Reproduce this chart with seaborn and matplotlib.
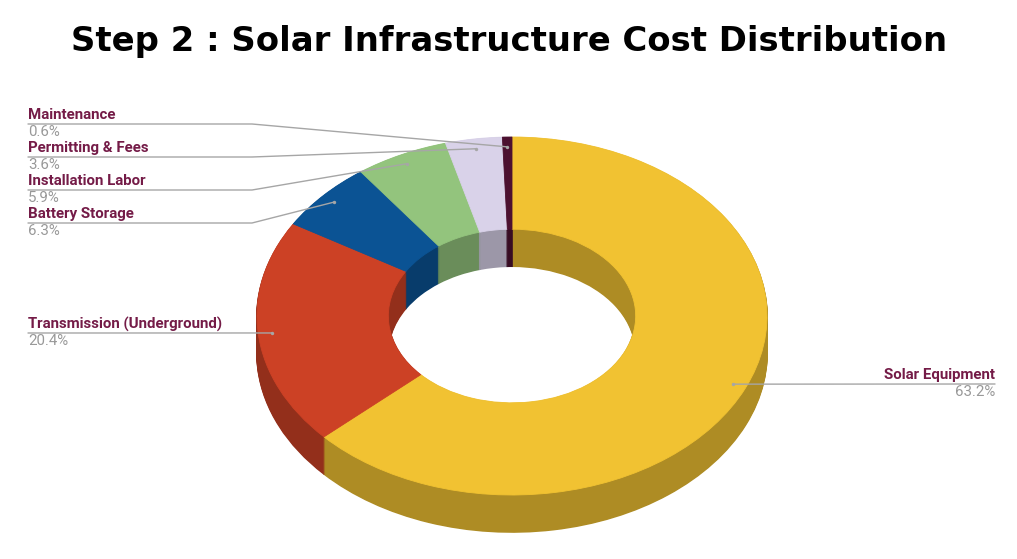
import numpy as np
import matplotlib
matplotlib.use("Agg")
import matplotlib.pyplot as plt
import seaborn as sns

# — Dados —
categorias = ["Solar Equipment", "Transmission (Underground)", "Battery Storage",
              "Installation Labor", "Permitting & Fees", "Maintenance"]
percentuais = [63.2, 20.4, 6.3, 5.9, 3.6, 0.6]
rotulos_pct = ["63.2%", "20.4%", "6.3%", "5.9%", "3.6%", "0.6%"]
cores = ["#F1C232", "#CC4125", "#0B5394", "#93C47D", "#D9D2E9", "#4C1130"]
titulo = "Step 2 : Solar Infrastructure Cost Distribution"

sns.set_theme(style="white")
plt.rcParams['font.family'] = ['Roboto', 'DejaVu Sans']

W, H = 1017, 559
fig = plt.figure(figsize=(W / 100, H / 100), dpi=100)
ax = fig.add_axes([0, 0, 1, 1])

# — Geometria (pixels) —
S = 179 / 255            # achatamento vertical
CX, CY_PX = 512, 316
R = 255
PROF = 37                # profundidade do "3D"
LARG = 0.515             # largura do anel

def px(x, y):
    return x, (H - y) / S

cx, cy = px(CX, CY_PX)

def escurecer(c, f=0.72):
    r, g, b = matplotlib.colors.to_rgb(c)
    return (r * f, g * f, b * f)

cores_lado = [escurecer(c) for c in cores]

# — Camadas laterais —
for k in range(PROF, 0, -1):
    ax.pie(percentuais, radius=R, center=(cx, cy - k / S), startangle=90,
           counterclock=False, colors=cores_lado,
           wedgeprops=dict(width=R * LARG, linewidth=1.2))
    for w in ax.patches[-len(percentuais):]:
        w.set_edgecolor(w.get_facecolor())

# — Face superior —
ax.pie(percentuais, radius=R, center=(cx, cy), startangle=90,
       counterclock=False, colors=cores,
       wedgeprops=dict(width=R * LARG, linewidth=0.6))
for w in ax.patches[-len(percentuais):]:
    w.set_edgecolor(w.get_facecolor())

# — Rótulos —
acum = np.cumsum([0] + percentuais[:-1])
ang_medio = np.deg2rad(90 - 360 * (acum + np.array(percentuais) / 2) / 100)
pontos = [(cx + 0.945 * R * np.cos(a), cy + 0.945 * R * np.sin(a)) for a in ang_medio]

cor_nome = "#741B47"
cor_pct = "#999999"
cor_linha = "#A6A6A6"
fs = 10.8

# y (px) da linha guia por categoria; o restante vai à direita
layout = {
    "Maintenance": 124,
    "Permitting & Fees": 157,
    "Installation Labor": 190,
    "Battery Storage": 223,
    "Transmission (Underground)": 333,
}

for i, nome in enumerate(categorias):
    dx, dy = pontos[i]
    if nome in layout:
        yl = layout[nome]
        x0, y0 = px(28, yl)
        if nome == "Transmission (Underground)":
            xs, ys = [x0, dx], [y0, dy]
        else:
            x1, _ = px(252, yl)
            xs, ys = [x0, x1, dx], [y0, y0, dy]
        ax.plot(xs, ys, color=cor_linha, lw=1, zorder=5)
        ax.text(*px(28, yl - 9), nome, color=cor_nome, fontsize=fs,
                fontweight="bold", ha="left", va="center", zorder=6)
        ax.text(*px(28, yl + 8), rotulos_pct[i], color=cor_pct, fontsize=fs,
                ha="left", va="center", zorder=6)
    else:
        yl = 384
        x1, y1 = px(995, yl)
        ax.plot([dx, x1], [dy, y1], color=cor_linha, lw=1, zorder=5)
        ax.text(*px(995, yl - 9), nome, color=cor_nome, fontsize=fs,
                fontweight="bold", ha="right", va="center", zorder=6)
        ax.text(*px(995, yl + 8), rotulos_pct[i], color=cor_pct, fontsize=fs,
                ha="right", va="center", zorder=6)
    ax.scatter([dx], [dy], s=6, color=cor_linha, zorder=7, linewidths=0)

ax.text(*px(W / 2 + 1, 41), titulo, family="DejaVu Sans", fontweight="bold",
        fontsize=24.4, ha="center", va="center", color="black")

ax.set_aspect("auto")
ax.set_xlim(0, W)
ax.set_ylim(0, H / S)
ax.axis("off")

fig.savefig("out.png", dpi=100, facecolor="white")
